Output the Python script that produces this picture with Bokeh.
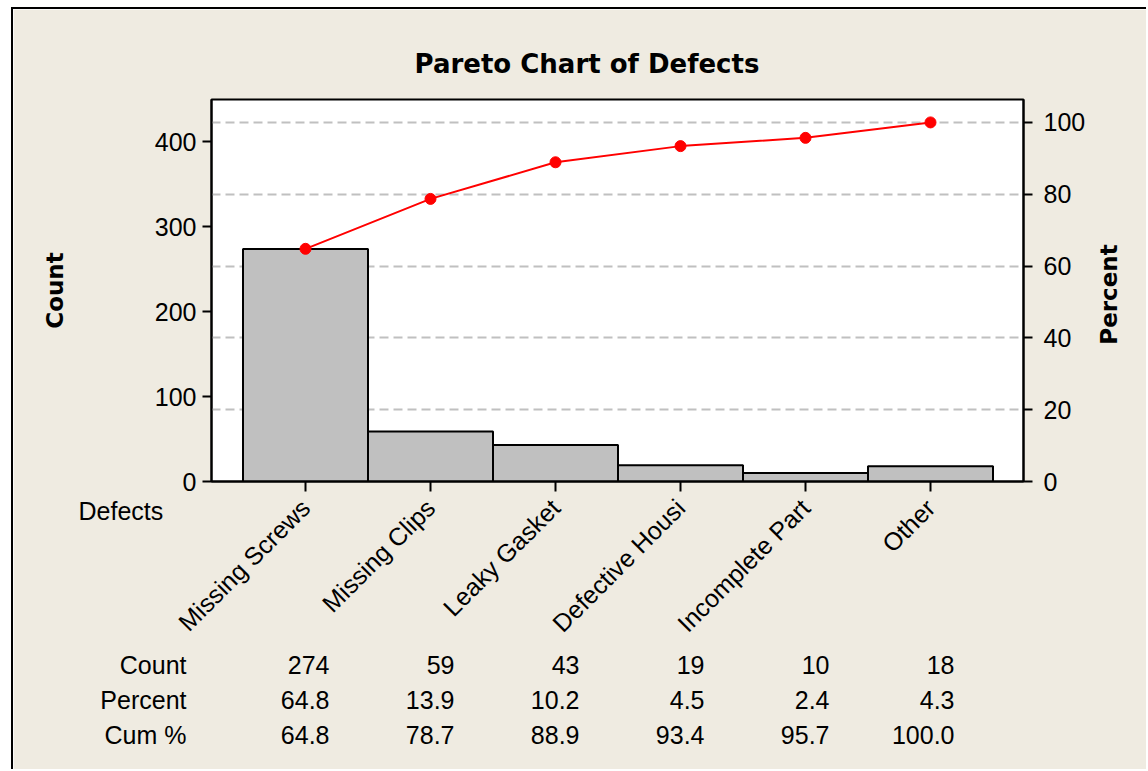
import math
from bokeh.plotting import figure
from bokeh.models import ColumnDataSource, LinearAxis, Range1d, FixedTicker, Grid
from bokeh.embed import file_html
from bokeh.resources import INLINE
from bokeh.core.properties import value

# ---------------- data ----------------
categories = ["Missing Screws", "Missing Clips", "Leaky Gasket",
              "Defective Housi", "Incomplete Part", "Other"]
counts = [274, 59, 43, 19, 10, 18]
percents = [64.8, 13.9, 10.2, 4.5, 2.4, 4.3]
cum_percents = [64.8, 78.7, 88.9, 93.4, 95.7, 100.0]
count_ticks = [0, 100, 200, 300, 400]
percent_ticks = [0, 20, 40, 60, 80, 100]
grid_percents = [20, 40, 60, 80, 100]
row_names = ["Count", "Percent", "Cum %"]
count_max = 450

# ---------------- layout constants (page pixels) ----------------
CX0, CY0 = 13, 9                 # canvas origin on the page (after border)
W, H = 1148 - CX0, 771 - CY0
FRAME_L, FRAME_T, FRAME_W, FRAME_H = 211, 99, 812, 382
BG = "#EFEBE1"
FONT = "Liberation Sans"
BOLD = "DejaVu Sans"
FS = "25px"

total = sum(counts)
pct_max = count_max / total * 100.0
x_lo = -0.752
x_hi = x_lo + FRAME_W / 125.0
PX_X = FRAME_W / (x_hi - x_lo)
PX_Y = FRAME_H / count_max
FRAME_B = FRAME_T + FRAME_H


def dx(page_x):
    return x_lo + (page_x - FRAME_L) / PX_X


def dy(page_y):
    return (FRAME_B - page_y) / PX_Y


xs = list(range(len(categories)))
src = ColumnDataSource(dict(
    x=xs, count=counts, cum=cum_percents,
    count_txt=[str(c) for c in counts],
    pct_txt=[f"{v:.1f}" for v in percents],
    cum_txt=[f"{v:.1f}" for v in cum_percents],
))

# ---------------- main chart ----------------
mb_l = FRAME_L - CX0
mb_t = FRAME_T - CY0
p = figure(width=W, height=H, output_backend="svg", toolbar_location=None,
           x_range=Range1d(x_lo, x_hi), y_range=Range1d(0, count_max),
           min_border_left=mb_l, min_border_top=mb_t,
           min_border_right=W - mb_l - FRAME_W,
           min_border_bottom=H - mb_t - FRAME_H,
           background_fill_color="white", border_fill_color=BG,
           outline_line_color="black", outline_line_width=2)
p.styles = {"margin-left": "11px", "margin-top": "7px",
            "border-left": "2px solid black", "border-top": "2px solid black"}
p.extra_y_ranges = {"pct": Range1d(0, pct_max)}

p.xgrid.visible = False
p.ygrid.visible = False
grid = Grid(dimension=1, ticker=FixedTicker(ticks=grid_percents), y_range_name="pct",
            grid_line_color="#C0C0C0", grid_line_dash="9 5", grid_line_width=2)
p.add_layout(grid)

p.vbar(x="x", top="count", width=1.0, source=src, fill_color="#C0C0C0",
       line_color="black", line_width=2)
p.line(x="x", y="cum", source=src, y_range_name="pct", line_color="#FF0000", line_width=2)
p.scatter(x="x", y="cum", source=src, y_range_name="pct", size=11,
          fill_color="#FF0000", line_color="#FF0000")


def style_axis(ax):
    ax.axis_line_width = 2
    ax.axis_line_color = "black"
    ax.major_tick_line_width = 2
    ax.major_tick_line_color = "black"
    ax.major_tick_in = 0
    ax.major_tick_out = 9
    ax.minor_tick_line_color = None
    ax.major_label_text_font = FONT
    ax.major_label_text_font_size = FS
    ax.major_label_text_color = "black"
    ax.axis_label_text_font = BOLD
    ax.axis_label_text_font_size = "23px"
    ax.axis_label_text_font_style = "bold"
    ax.axis_label_text_color = "black"


xa = p.xaxis[0]
style_axis(xa)
xa.ticker = FixedTicker(ticks=xs)
xa.major_label_overrides = {i: c for i, c in zip(xs, categories)}
xa.major_label_orientation = math.pi / 4
xa.major_tick_out = 10
xa.major_label_standoff = 12

ya = p.yaxis[0]
style_axis(ya)
ya.ticker = FixedTicker(ticks=count_ticks)
ya.axis_label = "Count"
ya.major_label_standoff = 6
ya.axis_label_standoff = 84

ra = LinearAxis(y_range_name="pct", ticker=FixedTicker(ticks=percent_ticks))
style_axis(ra)
ra.major_label_standoff = 11
p.add_layout(ra, "right")

# ---------------- overlay for texts outside the plot frame ----------------
o = figure(width=W, height=H, output_backend="svg", toolbar_location=None,
           x_range=Range1d(dx(CX0), dx(CX0 + W)),
           y_range=Range1d(dy(CY0 + H), dy(CY0)),
           min_border=0, min_border_left=0, min_border_right=0,
           min_border_top=0, min_border_bottom=0,
           x_axis_type=None, y_axis_type=None,
           background_fill_alpha=0, border_fill_alpha=0, outline_line_color=None)
o.grid.visible = False
o.styles = {"position": "absolute", "left": f"{CX0}px", "top": f"{CY0}px"}

o.text(x=[dx(586.5)], y=[dy(63)], text=["Pareto Chart of Defects"],
       text_align="center", text_baseline="middle",
       text_font=value(BOLD), text_font_style="bold", text_font_size="26px",
       text_color="black")
o.text(x=[dx(1108)], y=[dy(294)], text=["Percent"], angle=math.pi / 2,
       text_align="center", text_baseline="middle",
       text_font=value(BOLD), text_font_style="bold", text_font_size="23px",
       text_color="black")
o.text(x=[dx(78)], y=[dy(510)], text=["Defects"], text_align="left",
       text_baseline="middle", text_font=value(FONT), text_font_size=FS,
       text_color="black")

row_cols = ["count_txt", "pct_txt", "cum_txt"]
row_ys = [664, 699, 734]
o.text(x=[dx(186)] * 3, y=[dy(v) for v in row_ys], text=row_names,
       text_align="right", text_baseline="middle", text_font=value(FONT),
       text_font_size=FS, text_color="black")
for col, py in zip(row_cols, row_ys):
    o.text(x="x", y=dy(py), text=col, source=src, x_offset=24,
           text_align="right", text_baseline="middle", text_font=value(FONT),
           text_font_size=FS, text_color="black")

open("out.html", "w").write(file_html([p, o], INLINE))
